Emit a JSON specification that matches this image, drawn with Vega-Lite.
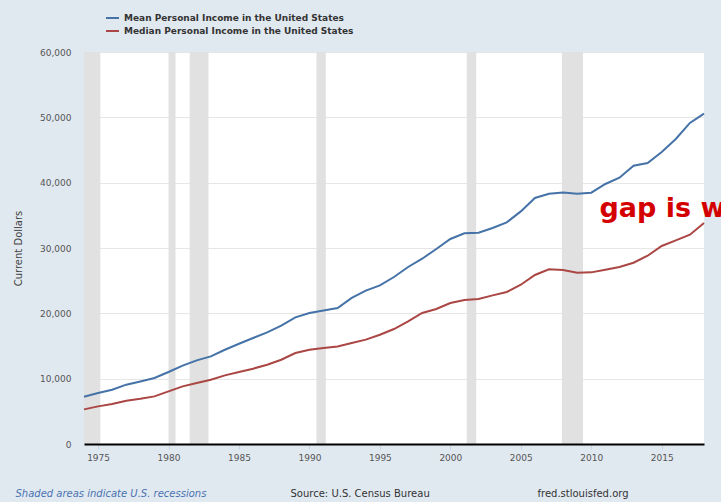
{
  "$schema": "https://vega.github.io/schema/vega-lite/v6.json",
  "width": 620,
  "height": 392,
  "autosize": {"type": "none"},
  "padding": {"left": 84, "top": 52, "right": 17, "bottom": 58},
  "background": "#e1e9f0",
  "config": {
    "view": {"fill": "white", "stroke": null},
    "font": "DejaVu Sans",
    "axis": {"labelFont": "DejaVu Sans", "titleFont": "DejaVu Sans"}
  },
  "datasets": {
    "income": [
      {"year": "1974-01-01", "mean": 7240, "median": 5300},
      {"year": "1975-01-01", "mean": 7810, "median": 5760},
      {"year": "1976-01-01", "mean": 8310, "median": 6120},
      {"year": "1977-01-01", "mean": 9080, "median": 6630},
      {"year": "1978-01-01", "mean": 9580, "median": 6930},
      {"year": "1979-01-01", "mean": 10100, "median": 7290},
      {"year": "1980-01-01", "mean": 11020, "median": 8050},
      {"year": "1981-01-01", "mean": 11990, "median": 8820},
      {"year": "1982-01-01", "mean": 12800, "median": 9340},
      {"year": "1983-01-01", "mean": 13410, "median": 9840},
      {"year": "1984-01-01", "mean": 14430, "median": 10500},
      {"year": "1985-01-01", "mean": 15350, "median": 11020},
      {"year": "1986-01-01", "mean": 16230, "median": 11530},
      {"year": "1987-01-01", "mean": 17080, "median": 12140},
      {"year": "1988-01-01", "mean": 18110, "median": 12900},
      {"year": "1989-01-01", "mean": 19380, "median": 13930},
      {"year": "1990-01-01", "mean": 20050, "median": 14430},
      {"year": "1991-01-01", "mean": 20450, "median": 14690},
      {"year": "1992-01-01", "mean": 20820, "median": 14940},
      {"year": "1993-01-01", "mean": 22350, "median": 15460},
      {"year": "1994-01-01", "mean": 23470, "median": 15970},
      {"year": "1995-01-01", "mean": 24280, "median": 16730},
      {"year": "1996-01-01", "mean": 25560, "median": 17600},
      {"year": "1997-01-01", "mean": 27090, "median": 18770},
      {"year": "1998-01-01", "mean": 28360, "median": 20050},
      {"year": "1999-01-01", "mean": 29850, "median": 20660},
      {"year": "2000-01-01", "mean": 31380, "median": 21580},
      {"year": "2001-01-01", "mean": 32240, "median": 22040},
      {"year": "2002-01-01", "mean": 32340, "median": 22200},
      {"year": "2003-01-01", "mean": 33060, "median": 22750},
      {"year": "2004-01-01", "mean": 33920, "median": 23270},
      {"year": "2005-01-01", "mean": 35600, "median": 24380},
      {"year": "2006-01-01", "mean": 37660, "median": 25870},
      {"year": "2007-01-01", "mean": 38310, "median": 26730},
      {"year": "2008-01-01", "mean": 38510, "median": 26630},
      {"year": "2009-01-01", "mean": 38310, "median": 26220},
      {"year": "2010-01-01", "mean": 38470, "median": 26270},
      {"year": "2011-01-01", "mean": 39800, "median": 26680},
      {"year": "2012-01-01", "mean": 40760, "median": 27090},
      {"year": "2013-01-01", "mean": 42600, "median": 27750},
      {"year": "2014-01-01", "mean": 43010, "median": 28820},
      {"year": "2015-01-01", "mean": 44700, "median": 30310},
      {"year": "2016-01-01", "mean": 46690, "median": 31160},
      {"year": "2017-01-01", "mean": 49140, "median": 32040},
      {"year": "2018-01-01", "mean": 50560, "median": 33830}
    ],
    "recessions": [
      {"start": "1973-11-01", "end": "1975-03-01"},
      {"start": "1980-01-01", "end": "1980-07-01"},
      {"start": "1981-07-01", "end": "1982-11-01"},
      {"start": "1990-07-01", "end": "1991-03-01"},
      {"start": "2001-03-01", "end": "2001-11-01"},
      {"start": "2007-12-01", "end": "2009-06-01"}
    ],
    "note": [
      {"label": "gap is widening"}
    ]
  },
  "layer": [
    {
      "data": {"name": "recessions"},
      "mark": {"type": "rect", "color": "#e1e1e1", "clip": true},
      "encoding": {
        "x": {
          "field": "start",
          "type": "temporal",
          "scale": {"type": "utc", "domain": [{"year": 1974, "month": 1, "date": 1, "utc": true}, {"year": 2018, "month": 1, "date": 1, "utc": true}]},
          "axis": {
            "orient": "bottom",
            "zindex": 1,
            "values": [
              {"year": 1975, "month": 1, "date": 1, "utc": true},
              {"year": 1980, "month": 1, "date": 1, "utc": true},
              {"year": 1985, "month": 1, "date": 1, "utc": true},
              {"year": 1990, "month": 1, "date": 1, "utc": true},
              {"year": 1995, "month": 1, "date": 1, "utc": true},
              {"year": 2000, "month": 1, "date": 1, "utc": true},
              {"year": 2005, "month": 1, "date": 1, "utc": true},
              {"year": 2010, "month": 1, "date": 1, "utc": true},
              {"year": 2015, "month": 1, "date": 1, "utc": true}
            ],
            "format": "%Y",
            "grid": false,
            "domainColor": "#000000",
            "domainWidth": 2,
            "tickColor": "#c6d5e4",
            "tickSize": 5,
            "tickWidth": 1,
            "labelFontSize": 9,
            "labelColor": "#555555",
            "labelPadding": 4,
            "labelFlush": false,
            "title": "Source: U.S. Census Bureau",
            "titleX": 206,
            "titleY": 49,
            "titleAlign": "left",
            "titleAnchor": null,
            "titleBaseline": "middle",
            "titleFontSize": 10,
            "titleFontWeight": "normal",
            "titleColor": "#333333"
          }
        },
        "x2": {"field": "end"}
      }
    },
    {
      "data": {"name": "income"},
      "transform": [{"fold": ["mean", "median"], "as": ["series", "value"]}],
      "mark": {"type": "line", "strokeWidth": 2},
      "encoding": {
        "x": {
          "field": "year",
          "type": "temporal",
          "scale": {"type": "utc", "domain": [{"year": 1974, "month": 1, "date": 1, "utc": true}, {"year": 2018, "month": 1, "date": 1, "utc": true}]},
          "axis": null
        },
        "y": {
          "field": "value",
          "type": "quantitative",
          "scale": {"domain": [0, 60000], "nice": false},
          "axis": {
            "orient": "left",
            "values": [0, 10000, 20000, 30000, 40000, 50000, 60000],
            "format": ",d",
            "domain": false,
            "ticks": false,
            "tickSize": 0,
            "grid": true,
            "gridColor": "#e6e6e6",
            "gridWidth": 1,
            "labelFontSize": 9,
            "labelColor": "#555555",
            "labelPadding": 13,
            "labelBaseline": "middle",
            "title": "Current Dollars",
            "titleX": -66,
            "titleY": 196,
            "titleAngle": 270,
            "titleAlign": "center",
            "titleAnchor": null,
            "titleBaseline": "middle",
            "titleFontSize": 10,
            "titleFontWeight": "normal",
            "titleColor": "#444444"
          }
        },
        "color": {
          "field": "series",
          "type": "nominal",
          "scale": {"domain": ["mean", "median"], "range": ["#4572a7", "#aa4643"]},
          "legend": {
            "orient": "none",
            "legendX": 21,
            "legendY": -41.5,
            "title": null,
            "padding": 0,
            "symbolType": "stroke",
            "symbolSize": 169,
            "symbolStrokeWidth": 2,
            "labelFontSize": 9,
            "labelFontWeight": "bold",
            "labelColor": "#333333",
            "labelOffset": 4,
            "labelLimit": 0,
            "rowPadding": 0,
            "labelExpr": "datum.label == 'mean' ? 'Mean Personal Income in the United States' : 'Median Personal Income in the United States'"
          }
        }
      }
    },
    {
      "data": {"name": "note"},
      "mark": {"type": "text", "color": "#d40000", "fontSize": 27, "fontWeight": "bold", "font": "DejaVu Sans", "align": "left", "baseline": "alphabetic"},
      "encoding": {
        "text": {"field": "label", "type": "nominal"},
        "x": {
          "datum": {"year": 2010, "month": 8, "date": 1, "utc": true},
          "type": "temporal",
          "scale": {"type": "utc", "domain": [{"year": 1974, "month": 1, "date": 1, "utc": true}, {"year": 2018, "month": 1, "date": 1, "utc": true}]},
          "axis": {
            "orient": "top",
            "labels": false,
            "ticks": false,
            "domain": false,
            "grid": false,
            "title": "Shaded areas indicate U.S. recessions",
            "titleX": -69,
            "titleY": 441,
            "titleAlign": "left",
            "titleAnchor": null,
            "titleBaseline": "middle",
            "titleFontSize": 10,
            "titleFontWeight": "normal",
            "titleFontStyle": "italic",
            "titleColor": "#4a72b0"
          }
        },
        "y": {
          "datum": 34800,
          "type": "quantitative",
          "scale": {"domain": [0, 60000], "nice": false},
          "axis": {
            "orient": "right",
            "labels": false,
            "ticks": false,
            "domain": false,
            "grid": false,
            "title": "fred.stlouisfed.org",
            "titleAngle": 0,
            "titleX": -167,
            "titleY": 441,
            "titleAlign": "left",
            "titleAnchor": null,
            "titleBaseline": "middle",
            "titleFontSize": 10,
            "titleFontWeight": "normal",
            "titleColor": "#333333"
          }
        }
      }
    }
  ],
  "resolve": {"axis": {"x": "independent", "y": "independent"}}
}
